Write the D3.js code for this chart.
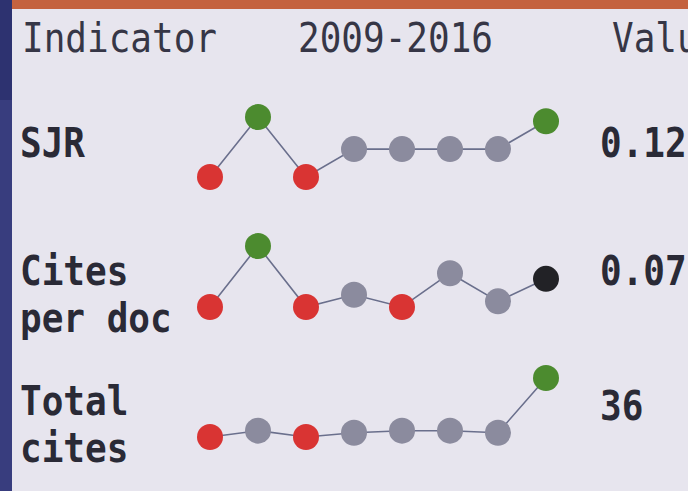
<!DOCTYPE html>
<html>
<head>
<meta charset="utf-8">
<script src="https://d3js.org/d3.v7.min.js"></script>
<style>
body {margin: 0; background: #e7e5ee;}
text {font-family: "DejaVu Sans Mono", "Liberation Mono", monospace;}
</style>
</head>
<body>
<svg id="chart"></svg>
<script>
// data
var years = [2009, 2010, 2011, 2012, 2013, 2014, 2015, 2016];
var headers = ["Indicator", "2009-2016", "Value"];
var labels = [["SJR"], ["Cites", "per doc"], ["Total", "cites"]];
var currentValues = ["0.12", "0.07", "36"];

var sjr = [0.08, 0.123, 0.08, 0.10, 0.10, 0.10, 0.10, 0.12];
var citesPerDoc = [0.04, 0.105, 0.04, 0.053, 0.04, 0.076, 0.046, 0.07];
var totalCites = [8, 11, 8, 10, 11, 11, 10, 36];

// dot colour codes: r = down, g = up, n = neutral, k = current
var sjrMarks = ["r", "g", "r", "n", "n", "n", "n", "g"];
var citesPerDocMarks = ["r", "g", "r", "n", "r", "n", "n", "k"];
var totalCitesMarks = ["r", "n", "r", "n", "n", "n", "n", "g"];

var series = [sjr, citesPerDoc, totalCites];
var marks = [sjrMarks, citesPerDocMarks, totalCitesMarks];

//init
var width = 688, height = 491;
var svg = d3.select("#chart").attr("width", width).attr("height", height);

var markColor = {r: "#d93433", g: "#4c8b2f", n: "#8b8b9e", k: "#222226"};

// background bits
svg.append("rect").attr("width", width).attr("height", height).attr("fill", "#e7e5ee");
svg.append("rect").attr("x", 0).attr("y", 0).attr("width", width).attr("height", 9).attr("fill", "#c4623f");
svg.append("rect").attr("x", 0).attr("y", 0).attr("width", 12).attr("height", height).attr("fill", "#2d3270");
svg.append("rect").attr("x", 0).attr("y", 100).attr("width", 12).attr("height", height - 100).attr("fill", "#383d7e");

// helper for condensed mono text
function monoText(x, y, str, weight, color) {
    svg.append("text")
        .attr("transform", "translate(" + x + "," + y + ") scale(0.9,1)")
        .style("font-size", "40px")
        .style("font-weight", weight)
        .attr("fill", color)
        .text(str);
}

//header
monoText(22, 52, headers[0], "normal", "#363646");
monoText(298, 52, headers[1], "normal", "#363646");
monoText(612, 52, headers[2], "normal", "#363646");

//scales
var xscale = d3.scalePoint().domain(years).range([210, 546]);
var rowRanges = [[177, 117], [307, 246], [437, 378]];
var labelY = [[157], [285, 332], [415, 462]];
var valueY = [157, 285, 420];

var line = d3.line();

series.forEach(function(vals, i) {
    var yscale = d3.scaleLinear().domain(d3.extent(vals)).range(rowRanges[i]);
    var pts = vals.map(function(v, j) { return [xscale(years[j]), yscale(v)]; });

    svg.append("path")
        .attr("d", line(pts))
        .attr("fill", "none")
        .attr("stroke", "#6a6f8c")
        .attr("stroke-width", 1.6);

    svg.append("g").selectAll("circle")
        .data(vals)
        .enter()
        .append("circle")
        .attr("cx", function(d, j) { return xscale(years[j]); })
        .attr("cy", function(d) { return yscale(d); })
        .attr("r", 13)
        .attr("fill", function(d, j) { return markColor[marks[i][j]]; });

    labels[i].forEach(function(s, k) {
        monoText(20, labelY[i][k], s, "bold", "#2a2a36");
    });
    monoText(600, valueY[i], currentValues[i], "bold", "#2a2a36");
});
</script>
</body>
</html>
